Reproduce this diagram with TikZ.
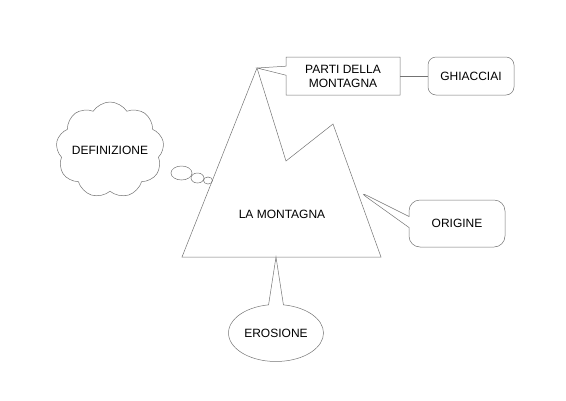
\documentclass[tikz,border=0pt]{standalone}
\usepackage{fontspec}
\setmainfont{Liberation Sans}
\usetikzlibrary{shapes.callouts,shapes.geometric,shapes.symbols}
\begin{document}
\begin{tikzpicture}[x=1pt,y=-1pt,
  ln/.style={draw=black!55,line width=0.5pt},
  lbl/.style={font=\fontsize{12}{14}\selectfont,align=center,inner sep=0pt,text=black},
  bubble/.style={ln,ellipse,inner sep=0pt}]
\useasboundingbox (0,0) rectangle (566,400);
% mountain
\coordinate (base1) at (182,257);
\coordinate (peak) at (257,68);
\coordinate (notch) at (286,161);
\coordinate (peak2) at (333,124);
\coordinate (base2) at (381,257);
\coordinate (orig) at (358,191);
\coordinate (bot) at (276,257);
\draw[ln] (base1) -- (peak) -- (notch) -- (peak2) -- (base2) -- cycle;
\node[lbl] (mont) at (282,214) {LA MONTAGNA};
% parti
\node[ln,lbl,rectangle callout,minimum width=114pt,minimum height=38pt,
  callout absolute pointer={(peak)},callout pointer width=9pt] (parti) at (343,76) {PARTI DELLA\\MONTAGNA};
\node[ln,lbl,rectangle,rounded corners=8pt,minimum width=86pt,minimum height=38pt] (ghia) at (471,76) {GHIACCIAI};
\draw[ln] (parti.east) -- (ghia.west);
% origine
\node[ln,lbl,rectangle callout,rounded corners=11pt,minimum width=96pt,minimum height=47pt,
  callout absolute pointer={(orig)},callout pointer width=11pt] (origine) at (457,223.5) {ORIGINE};
% erosione
\node[ln,lbl,ellipse callout,minimum width=95pt,minimum height=57pt,
  callout absolute pointer={(bot)},callout pointer arc=18] (eros) at (276,333) {EROSIONE};
% definizione
\node[ln,lbl,cloud,cloud puffs=9,cloud puff arc=115,aspect=1.125,inner xsep=-10pt,minimum width=108pt,minimum height=96pt] (def) at (110,150) {DEFINIZIONE};
\node[bubble,fill=white,minimum width=21pt,minimum height=14pt] (b1) at (181.5,173) {};
\node[bubble,minimum width=13pt,minimum height=10pt] (b2) at (197.5,178) {};
\node[bubble,minimum width=9pt,minimum height=7pt] (b3) at (208,180.5) {};
\end{tikzpicture}
\end{document}
